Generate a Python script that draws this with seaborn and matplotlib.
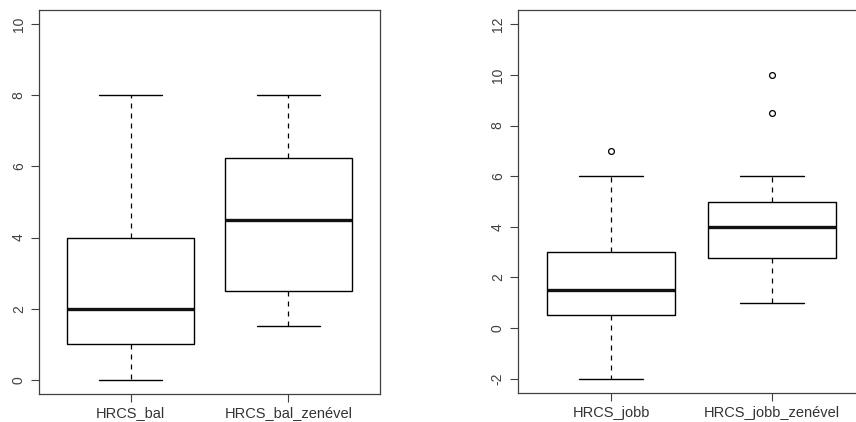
import matplotlib
matplotlib.use("Agg")
import matplotlib.pyplot as plt
import seaborn as sns
import pandas as pd

# Observed HRCS scores per group (left panel: "bal", right panel: "jobb")
hrcs_bal = [0, 1, 2, 4, 8]
hrcs_bal_zenevel = [1.5, 2.5, 4.5, 6.25, 8]
hrcs_jobb = [-2, 0.5, 0.5, 1.5, 1.5, 3, 3, 6, 7]
hrcs_jobb_zenevel = [1, 2.75, 2.75, 2.75, 4, 4, 4, 5, 5, 5, 6, 8.5, 10]

left_labels = ["HRCS_bal", "HRCS_bal_zenével"]
right_labels = ["HRCS_jobb", "HRCS_jobb_zenével"]
left_yticks = [0, 2, 4, 6, 8, 10]
right_yticks = [-2, 0, 2, 4, 6, 8, 10, 12]


def long_frame(labels, groups):
    rows = []
    for lab, vals in zip(labels, groups):
        rows += [(lab, v) for v in vals]
    return pd.DataFrame(rows, columns=["csoport", "HRCS"])


sns.set_theme(style="white")
plt.rcParams["font.family"] = ["Liberation Sans", "DejaVu Sans"]

fig = plt.figure(figsize=(8.56, 4.22), dpi=100)
W, H = 856, 422
ax1 = fig.add_axes([39 / W, (H - 394) / H, 341 / W, 384 / H])
ax2 = fig.add_axes([518 / W, (H - 393) / H, 347 / W, 383 / H])

box_kw = dict(
    width=0.8,
    color="white",
    linecolor="black",
    linewidth=1.0,
    whis=1.5,
    whiskerprops=dict(linestyle=(0, (4, 4)), linewidth=0.9),
    capprops=dict(linewidth=1.0),
    medianprops=dict(linewidth=2.4, color="#111111"),
    flierprops=dict(marker="o", markerfacecolor="none", markeredgecolor="black",
                    markersize=4.2, markeredgewidth=0.9),
)

panels = [
    (ax1, long_frame(left_labels, [hrcs_bal, hrcs_bal_zenevel]), left_labels,
     left_yticks, (-0.4, 10.4), 3),
    (ax2, long_frame(right_labels, [hrcs_jobb, hrcs_jobb_zenevel]), right_labels,
     right_yticks, (-2.56, 12.56), 4),
]

for ax, df, labels, yticks, ylim, xpad in panels:
    sns.boxplot(data=df, x="csoport", y="HRCS", order=labels, ax=ax, **box_kw)
    ax.set_xlim(-0.58, 1.58)
    ax.set_ylim(*ylim)
    ax.set_yticks(yticks)
    ax.set_yticklabels([str(t) for t in yticks], rotation=90, va="center")
    ax.set_xticks([0, 1])
    ax.set_xticklabels(labels)
    ax.set_xlabel("")
    ax.set_ylabel("")
    ax.grid(False)
    ax.set_facecolor("white")
    for sp in ax.spines.values():
        sp.set_visible(True)
        sp.set_color("#404040")
        sp.set_linewidth(0.9)
    ax.tick_params(axis="y", direction="out", length=5.5, width=0.8, color="#404040",
                   labelsize=10, labelcolor="#404040", pad=4, left=True)
    ax.tick_params(axis="x", direction="out", length=5.5, width=0.8, color="#404040",
                   labelsize=10.5, labelcolor="#333333", pad=xpad, bottom=True)

fig.savefig("out.png", dpi=100, facecolor="white")
